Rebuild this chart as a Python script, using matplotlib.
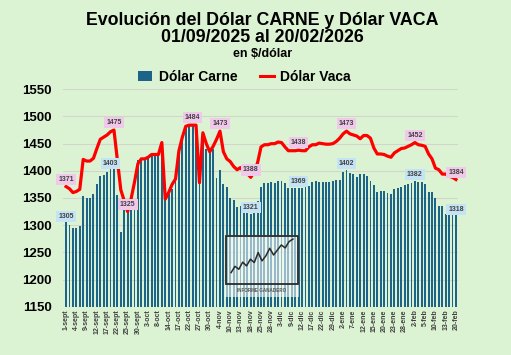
import numpy as np
import matplotlib
matplotlib.use("Agg")
import matplotlib.pyplot as plt
from matplotlib.patches import Patch, Rectangle
from matplotlib.lines import Line2D

plt.rcParams['font.family'] = ['Liberation Sans', 'DejaVu Sans']

# ---------------- data ----------------
tick_labels = ['1-sept', '4-sept', '9-sept', '12-sept', '17-sept', '22-sept', '25-sept',
               '30-sept', '3-oct', '8-oct', '14-oct', '17-oct', '22-oct', '27-oct', '30-oct',
               '4-nov', '10-nov', '13-nov', '18-nov', '25-nov', '28-nov', '3-dic', '9-dic',
               '12-dic', '17-dic', '22-dic', '29-dic', '2-ene', '7-ene', '12-ene', '15-ene',
               '20-ene', '23-ene', '28-ene', '2-feb', '5-feb', '10-feb', '13-feb', '20-feb']

dolar_carne = [
    1305, 1300, 1294, 1295, 1298, 1353, 1350, 1350, 1358, 1376,
    1390, 1393, 1398, 1403, 1403, 1356, 1287, 1330, 1325, 1330,
    1340, 1420, 1422, 1422, 1423, 1428, 1428, 1428, 1430, 1348,
    1357, 1367, 1384, 1434, 1459, 1482, 1484, 1484, 1484, 1379,
    1468, 1440, 1436, 1440, 1386, 1402, 1376, 1370, 1350, 1346,
    1333, 1335, 1325, 1325, 1321, 1325, 1345, 1370, 1378, 1378,
    1380, 1378, 1382, 1382, 1378, 1368, 1368, 1369, 1369, 1369,
    1370, 1372, 1379, 1382, 1380, 1379, 1379, 1380, 1382, 1384,
    1384, 1398, 1402, 1396, 1395, 1388, 1395, 1395, 1390, 1382,
    1373, 1361, 1362, 1362, 1359, 1358, 1366, 1369, 1371, 1373,
    1376, 1378, 1382, 1379, 1379, 1375, 1361, 1361, 1350, 1336,
    1335, 1321, 1321, 1321, 1318]

dolar_vaca = [
    1371, 1367, 1360, 1362, 1366, 1421, 1418, 1418, 1423, 1441,
    1458, 1462, 1466, 1472, 1475, 1420, 1365, 1345, 1325, 1348,
    1379, 1413, 1422, 1422, 1425, 1430, 1430, 1430, 1452, 1348,
    1360, 1375, 1385, 1437, 1462, 1482, 1484, 1484, 1484, 1378,
    1470, 1450, 1435, 1445, 1458, 1473, 1435, 1422, 1417, 1408,
    1402, 1406, 1398, 1395, 1388, 1398, 1415, 1444, 1448, 1448,
    1450, 1450, 1453, 1452, 1444, 1437, 1437, 1437, 1438, 1437,
    1437, 1444, 1448, 1448, 1451, 1450, 1449, 1449, 1450, 1454,
    1460, 1468, 1473, 1468, 1466, 1464, 1459, 1465, 1465, 1460,
    1442, 1431, 1431, 1430, 1427, 1425, 1433, 1437, 1441, 1442,
    1445, 1448, 1452, 1448, 1447, 1445, 1431, 1422, 1405, 1402,
    1394, 1394, 1390, 1388, 1384]

carne_label_idx = [0, 13, 54, 68, 82, 102, 114]
vaca_label_idx = [0, 14, 18, 37, 45, 54, 68, 82, 102, 114]

logo_trend = [2, 3.5, 2.8, 4.5, 3.6, 5.2, 4.4, 6.8, 4.8, 6.0, 7.8, 6.2, 7.4, 8.6, 7.9, 9.4, 10]

# ---------------- style ----------------
bg = '#dcf3d3'
bar_color = '#1d6588'
line_color = '#ff0000'

fig = plt.figure(figsize=(5.11, 3.55), dpi=100, facecolor=bg)
W, H = 511.0, 355.0
ax = fig.add_axes([63 / W, 1 - 306.7 / H, (458 - 63) / W, (306.7 - 89.3) / H])
ax.set_facecolor(bg)

x = np.arange(len(dolar_carne))
ax.bar(x, dolar_carne, width=0.55, color=bar_color, zorder=2)
ax.plot(x, dolar_vaca, color=line_color, lw=2.3, zorder=3, solid_joinstyle='round')

ax.set_ylim(1150, 1550)
ax.set_xlim(-0.9, 114.6)
ax.set_yticks(np.arange(1150, 1551, 50))
ax.grid(axis='y', color='#d0d6cc', lw=0.8, zorder=0)
ax.set_axisbelow(True)
for s in ax.spines.values():
    s.set_visible(False)
ax.tick_params(length=0)
ax.tick_params(axis='y', pad=8, labelsize=9.5)
for t in ax.get_yticklabels():
    t.set_fontweight('bold')
ax.set_xticks(x[::3])
ax.set_xticklabels(tick_labels, rotation=90, fontsize=5, fontweight='bold', color='#404040')
ax.tick_params(axis='x', pad=2)

for i in carne_label_idx:
    ax.annotate(str(dolar_carne[i]), (x[i], dolar_carne[i]), xytext=(0, 4.3),
                textcoords='offset points', ha='center', va='center', fontsize=5,
                fontweight='bold', color='#404040', zorder=5,
                bbox=dict(boxstyle='square,pad=0.3', fc='#c4e3f4', ec='none'))
for i in vaca_label_idx:
    ax.annotate(str(dolar_vaca[i]), (x[i], dolar_vaca[i]), xytext=(0, 5.3),
                textcoords='offset points', ha='center', va='center', fontsize=5,
                fontweight='bold', color='#404040', zorder=5,
                bbox=dict(boxstyle='square,pad=0.3', fc='#f0c8ea', ec='none'))

# titles
tx = 262.5 / W
fig.text(tx, 1 - 20.5 / H, 'Evolución del Dólar CARNE y Dólar VACA', ha='center', va='center',
         fontsize=12.8, fontweight='bold')
fig.text(tx, 1 - 37.5 / H, '01/09/2025 al 20/02/2026', ha='center', va='center',
         fontsize=12.8, fontweight='bold')
fig.text(tx, 1 - 54 / H, 'en $/dólar', ha='center', va='center', fontsize=9, fontweight='bold')

handles = [Patch(facecolor=bar_color, edgecolor='none', label='Dólar Carne'),
           Line2D([0], [0], color=line_color, lw=2.2, label='Dólar Vaca')]
fig.legend(handles=handles, loc='center', bbox_to_anchor=(244.5 / W, 1 - 77 / H), ncol=2,
           frameon=False, prop=dict(weight='bold', size=10), handlelength=1.0,
           handletextpad=0.5, columnspacing=1.6)

# logo
fig.patches.append(Rectangle((225 / W, 1 - 297 / H), 74 / W, 62 / H, transform=fig.transFigure,
                             facecolor='white', alpha=0.55, edgecolor='none', zorder=3))
fig.patches.append(Rectangle((225.5 / W, 1 - 283.5 / H), 72.5 / W, 48 / H, transform=fig.transFigure,
                             facecolor='none', edgecolor='#2a2a2a', lw=1.3, zorder=4))
lax = fig.add_axes([228 / W, 1 - 281 / H, 68 / W, 44 / H], zorder=6)
lax.patch.set_alpha(0)
lax.axis('off')
lax.plot(np.arange(len(logo_trend)), logo_trend, color='#2a2a2a', lw=1.1)
lax.set_ylim(0, 10.5)
fig.text(262 / W, 1 - 291 / H, 'INFORME GANADERO', ha='center', va='center', fontsize=3.3,
         fontweight='bold', color='#555555', zorder=6)

fig.savefig('out.png', dpi=100, facecolor=bg)
